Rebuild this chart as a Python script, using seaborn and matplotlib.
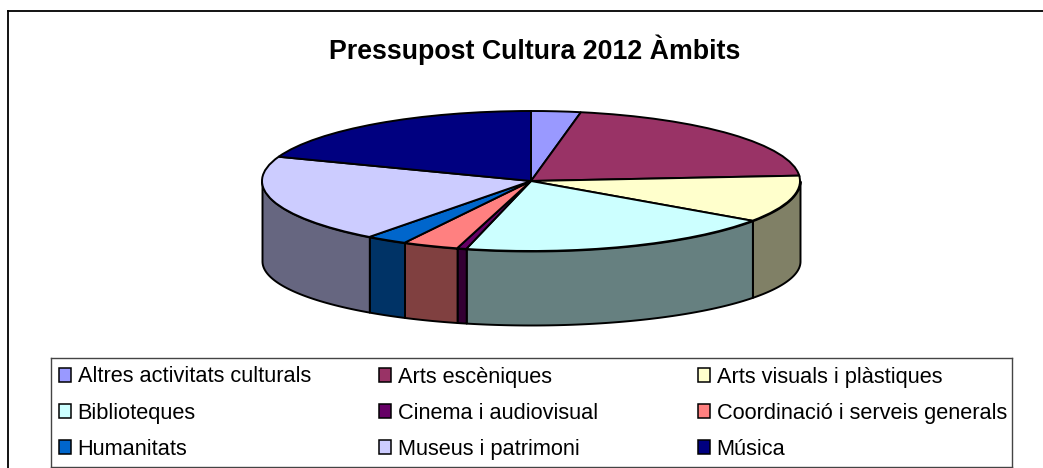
import numpy as np
import matplotlib
matplotlib.use('Agg')
import matplotlib.pyplot as plt
from matplotlib.patches import Patch
import seaborn as sns

labels = ['Altres activitats culturals', 'Arts escèniques', 'Arts visuals i plàstiques',
          'Biblioteques', 'Cinema i audiovisual', 'Coordinació i serveis generals',
          'Humanitats', 'Museus i patrimoni', 'Música']
values = [2.97, 20.8, 10.83, 19.25, 0.56, 3.36, 2.47, 20.36, 19.36]
colors = ['#9999FF', '#993366', '#FFFFCC', '#CCFFFF', '#660066',
          '#FF8080', '#0066CC', '#CCCCFF', '#000080']

W, H = 1043, 468

sns.set_theme(style='white')
plt.rcParams['font.family'] = ['Liberation Sans', 'DejaVu Sans']

palette = sns.color_palette(colors)
fig = plt.figure(figsize=(W / 100, H / 100), dpi=100, facecolor='white')


def px_axes(x0, y0, x1, y1, **kw):
    # axes from pixel box, y measured from the top of the image
    return fig.add_axes([x0 / W, 1 - y1 / H, (x1 - x0) / W, (y1 - y0) / H], **kw)


# outer frame, only top and left are inside the crop
bg = px_axes(8, 11.5, W + 5, H + 5)
bg.set_xticks([])
bg.set_yticks([])
sns.despine(ax=bg, right=True, bottom=True)
for side in ['top', 'left']:
    bg.spines[side].set_visible(True)
    bg.spines[side].set_color('black')
    bg.spines[side].set_linewidth(1.3)

# pie, squashed to an ellipse: 269 px per unit in x, 70 px per unit in y
cx, cy, rx, ry = 531, 181, 269, 70
ax = px_axes(cx - 1.1 * rx, cy - 1.1 * ry, cx + 1.1 * rx, cy + 2.2 * ry)
wedges, _ = ax.pie(values, colors=palette, startangle=90, counterclock=False, radius=1,
                   wedgeprops=dict(edgecolor='black', linewidth=1.4))
ax.set_aspect('auto')
ax.set_xlim(-1.1, 1.1)
ax.set_ylim(-2.2, 1.1)

# side wall for the wedges on the front half
for wedge, col in zip(wedges, palette):
    t1 = max(wedge.theta1, -180)
    t2 = min(wedge.theta2, 0)
    if t2 <= t1:
        continue
    t = np.radians(np.linspace(t1, t2, 80))
    ax.fill_between(np.cos(t), np.sin(t), -1.143 + 0.914 * np.sin(t),
                    facecolor=tuple(c * 0.5 for c in col), edgecolor='black',
                    linewidth=1.4, zorder=0.5)

fig.text(534.5 / W, 1 - 50 / H, 'Pressupost Cultura 2012 Àmbits', ha='center', va='center',
         fontsize=19.3, fontweight='bold', color='black')

# legend panel, one legend per column so columns are evenly spaced
leg_ax = px_axes(50.5, 357.5, 1012, 467)
leg_ax.set_xticks([])
leg_ax.set_yticks([])
for s in leg_ax.spines.values():
    s.set_color('#444444')
    s.set_linewidth(1)

col_x = [8, 328, 647]
for i, x in enumerate(col_x):
    handles = [Patch(facecolor=palette[j], edgecolor='black', linewidth=1.1, label=labels[j])
               for j in range(i, len(labels), 3)]
    leg = leg_ax.legend(handles=handles, loc='upper left', frameon=False,
                        bbox_to_anchor=(x / 961.5, 1 - 9 / 109.5),
                        borderpad=0, borderaxespad=0, fontsize=15.7,
                        handlelength=0.595, handleheight=0.595, handletextpad=0.28,
                        labelspacing=0.7, labelcolor='black')
    if i < len(col_x) - 1:
        leg_ax.add_artist(leg)

fig.savefig('out.png', dpi=100)
